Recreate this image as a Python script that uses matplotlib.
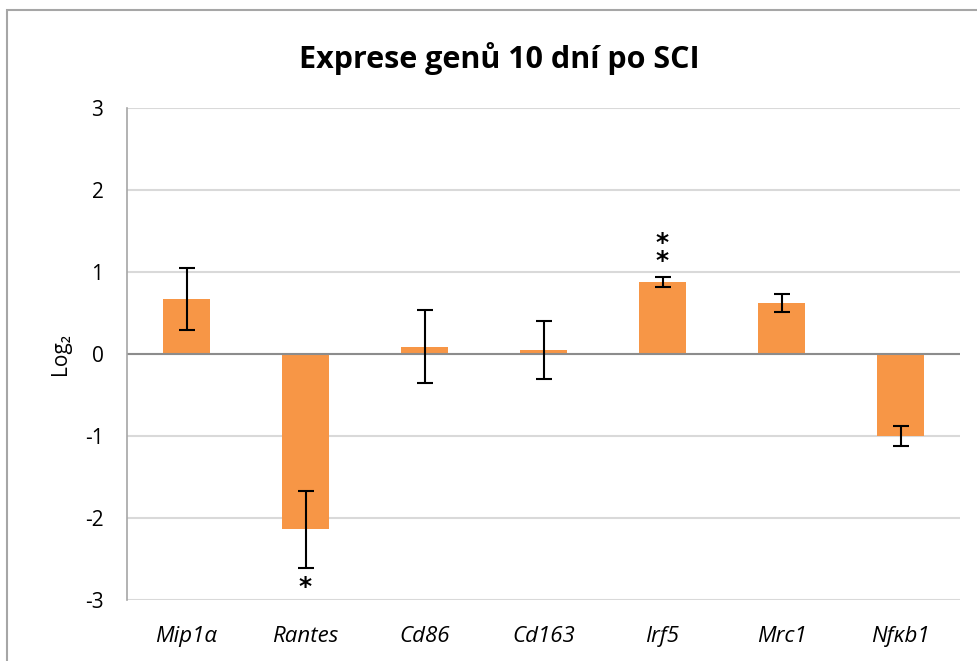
import matplotlib
matplotlib.use("Agg")
import matplotlib.pyplot as plt
import numpy as np
from matplotlib.patches import Rectangle

plt.rcParams['font.family'] = ['Open Sans', 'DejaVu Sans']

genes = ['Mip1α', 'Rantes', 'Cd86', 'Cd163', 'Irf5', 'Mrc1', 'Nfκb1']
values = [0.67, -2.14, 0.09, 0.05, 0.88, 0.62, -1.00]
errors = [0.375, 0.47, 0.445, 0.355, 0.065, 0.11, 0.12]
stars = ['', '*', '', '', '*\n*', '', '']

fig = plt.figure(figsize=(9.77, 6.61), dpi=100)
ax = fig.add_axes([0.130, 0.0923, 0.8526, 0.7443])

x = np.arange(len(genes))
ax.bar(x, values, width=0.4, color='#F79646', zorder=2)
ax.errorbar(x, values, yerr=errors, fmt='none', ecolor='black', elinewidth=1.5,
            capsize=6, capthick=1.5, zorder=3)

for xi, v, e, s in zip(x, values, errors, stars):
    if not s:
        continue
    if v >= 0:
        ax.text(xi, v + e + 0.04, s, ha='center', va='bottom', fontsize=18,
                fontweight='bold', linespacing=0.7, family='DejaVu Sans')
    else:
        ax.text(xi, v - e - 0.08, s, ha='center', va='top', fontsize=18,
                fontweight='bold', family='DejaVu Sans')

ax.set_xlim(-0.5, len(genes) - 0.5)
ax.set_ylim(-3, 3)
ax.set_yticks(range(-3, 4))
ax.set_yticklabels([str(t) for t in range(-3, 4)])
ax.set_xticks(x)
ax.set_xticklabels(genes, style='italic')
ax.tick_params(axis='both', length=0)
ax.tick_params(axis='x', pad=19, labelsize=16)
ax.tick_params(axis='y', pad=17, labelsize=15)

ax.yaxis.grid(True, color='#D9D9D9', linewidth=1.5, zorder=0)
ax.set_axisbelow(True)
ax.axhline(0, color='#8C8C8C', linewidth=1.5, zorder=2.5)
for side in ['top', 'right', 'bottom']:
    ax.spines[side].set_visible(False)
ax.spines['left'].set_color('#A6A6A6')
ax.spines['left'].set_linewidth(1.2)

ax.set_ylabel('Log₂', fontsize=15, labelpad=10)

fig.text(0.511, 0.912, 'Exprese genů 10 dní po SCI', ha='center', va='center',
         fontsize=22, fontweight='bold')

fig.patches.append(Rectangle((7 / 977, -0.1), 1.2, 1 - 10 / 661 + 0.1,
                             transform=fig.transFigure, fill=False,
                             edgecolor='#A6A6A6', linewidth=1.5))

fig.savefig('out.png', dpi=100)
